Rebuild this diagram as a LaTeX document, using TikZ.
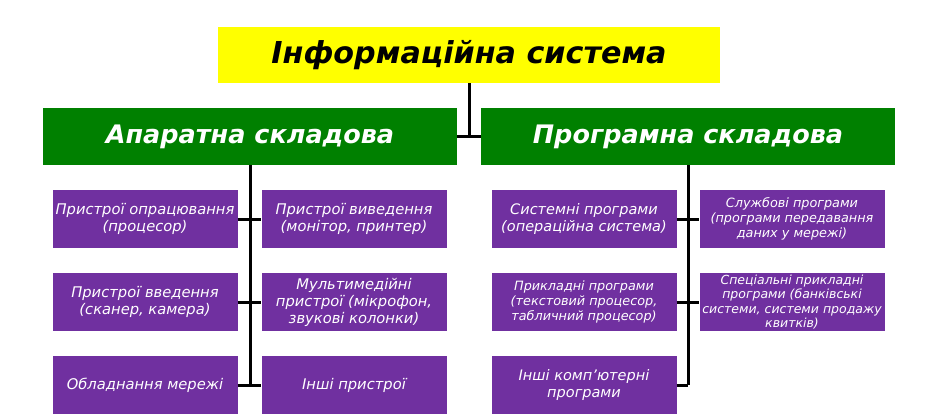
\documentclass[tikz,border=0pt]{standalone}
\usepackage{fontspec}
\setmainfont{DejaVu Sans}
\definecolor{titleyellow}{RGB}{255,255,0}
\definecolor{partgreen}{RGB}{0,128,0}
\definecolor{itempurple}{RGB}{112,48,160}
\tikzset{
  titlebox/.style = {fill = titleyellow, minimum width = 502pt, minimum height = 56pt,
    font = \fontsize{30.2}{36}\selectfont\bfseries\itshape},
  partbox/.style = {fill = partgreen, text = white, minimum width = 414pt, minimum height = 57pt,
    font = \fontsize{25.5}{30}\selectfont\bfseries\itshape},
  itembox/.style = {fill = itempurple, text = white, minimum width = 185pt, minimum height = 58pt,
    align = center, inner sep = 2pt, font = \fontsize{14.7}{17}\selectfont\itshape},
  small/.style = {font = \fontsize{12.8}{15}\selectfont\itshape},
  link/.style = {line width = 3pt}
}
\begin{document}
\begin{tikzpicture}[x = 1pt, y = -1pt]
\useasboundingbox (0,0) rectangle (940,417);
% top level
\node[titlebox] (is) at (469,55) {Інформаційна система};
\node[partbox] (hw) at (250,136.5) {Апаратна складова};
\node[partbox] (sw) at (688,136.5) {Програмна складова};
% hardware
\node[itembox] (h1) at (145,219) {Пристрої опрацювання\\(процесор)};
\node[itembox] (h2) at (354,219) {Пристрої виведення\\(монітор, принтер)};
\node[itembox] (h3) at (145,302) {Пристрої введення\\(сканер, камера)};
\node[itembox] (h4) at (354,302) {Мультимедійні\\пристрої (мікрофон,\\звукові колонки)};
\node[itembox] (h5) at (145,385) {Обладнання мережі};
\node[itembox] (h6) at (354,385) {Інші пристрої};
% software
\node[itembox, font = \fontsize{14.5}{17}\selectfont\itshape] (s1) at (584,219) {Системні програми\\(операційна система)};
\node[itembox, small] (s2) at (792,219) {Службові програми\\(програми передавання\\даних у мережі)};
\node[itembox, small] (s3) at (584,302) {Прикладні програми\\(текстовий процесор,\\табличний процесор)};
\node[itembox, font = \fontsize{12.5}{14.5}\selectfont\itshape] (s4) at (792,302) {Спеціальні прикладні\\програми (банківські\\системи, системи продажу\\квитків)};
\node[itembox, font = \fontsize{14.5}{17}\selectfont\itshape] (s5) at (584,385) {Інші комп’ютерні\\програми};
% connectors
\draw[link] (is.south) -- (is.south |- hw.east);
\draw[link] (hw.east) -- (sw.west);
\draw[link] (hw.south) -- (hw.south |- h5.east);
\draw[link] (sw.south) -- (sw.south |- s5.east);
\foreach \a/\b in {h1/h2, h3/h4, h5/h6, s1/s2, s3/s4}
{
  \draw[link] (\a.east) -- (\b.west);
}
\draw[link] (s5.east) -- (sw.south |- s5.east);
\end{tikzpicture}
\end{document}
